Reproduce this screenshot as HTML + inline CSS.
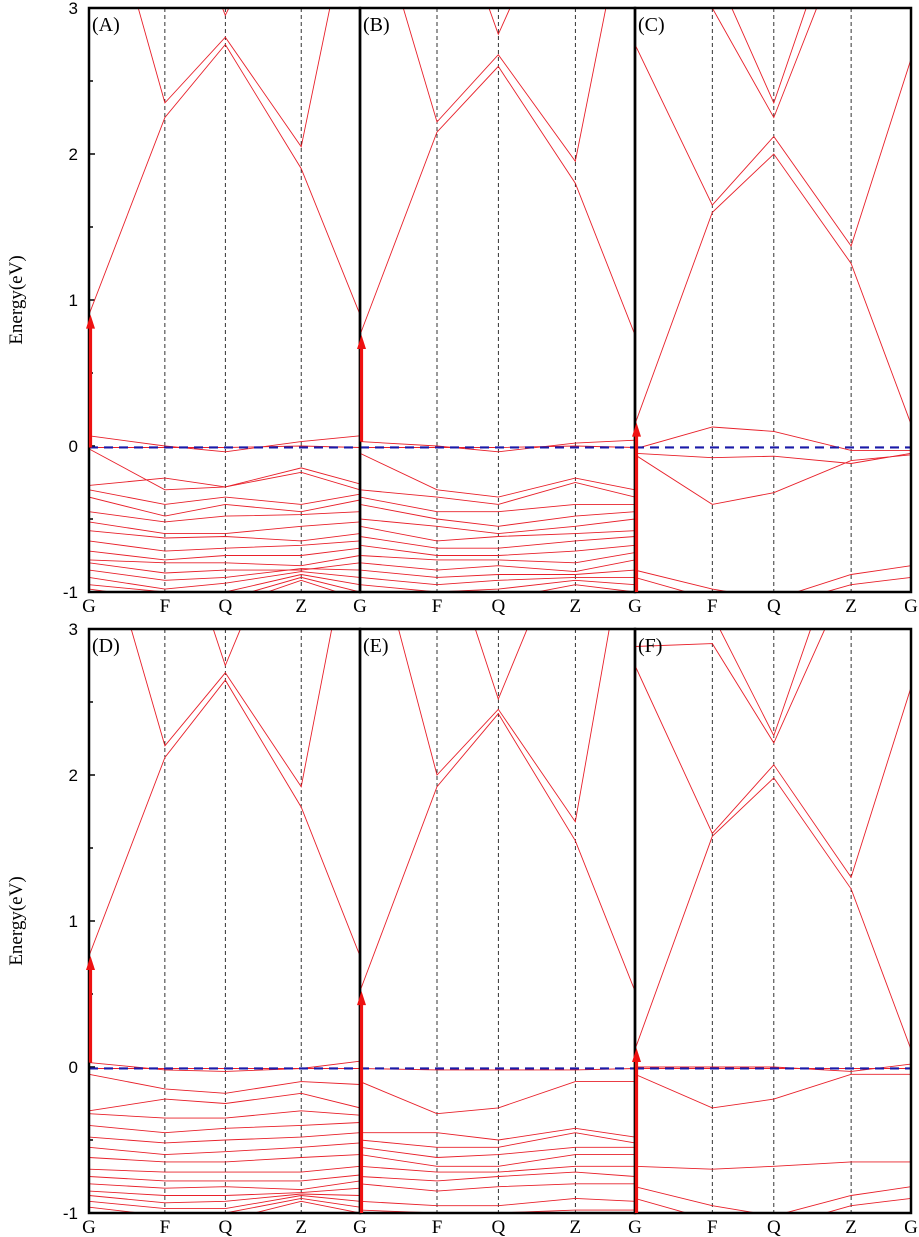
<!DOCTYPE html>
<html><head><meta charset="utf-8"><style>
html,body{margin:0;padding:0;background:#fff;}
svg{display:block;}
</style></head><body>
<svg id="chart" width="919" height="1237" viewBox="0 0 919 1237" xmlns="http://www.w3.org/2000/svg"></svg>
<script>
// k-path labels and node fractions
const kLabels = ["G","F","Q","Z","G"];
const kFrac = [0, 0.28, 0.503, 0.783, 1];
const yTicks = [3, 2, 1, 0, -1];
const panelNames = ["(A)","(B)","(C)","(D)","(E)","(F)"];
// CBM / VBM arrow endpoints (eV)
const arrowFrom = [-0.01, 0.03, -1, 0.03, -1, -1];
const arrowTo = [0.9, 0.76, 0.16, 0.76, 0.52, 0.13];

// Bands: energies at G, F, Q, Z, G
const bandsA = [
 [0.9,2.25,2.75,1.9,0.9],[4.2,2.35,2.8,2.05,4.0],[5,4,2.95,4,5],
 [0.07,0.0,-0.04,0.03,0.07],[-0.01,-0.01,-0.01,0.0,-0.01],
 [-0.02,-0.3,-0.28,-0.15,-0.26],[-0.27,-0.22,-0.28,-0.18,-0.3],
 [-0.3,-0.4,-0.35,-0.4,-0.33],[-0.35,-0.48,-0.4,-0.45,-0.37],
 [-0.45,-0.52,-0.48,-0.47,-0.45],[-0.52,-0.6,-0.6,-0.55,-0.52],
 [-0.58,-0.63,-0.62,-0.65,-0.6],[-0.65,-0.72,-0.7,-0.68,-0.65],
 [-0.72,-0.78,-0.75,-0.75,-0.7],[-0.78,-0.8,-0.8,-0.82,-0.75],
 [-0.8,-0.87,-0.85,-0.85,-0.8],[-0.85,-0.92,-0.9,-0.84,-0.85],
 [-0.9,-0.98,-0.94,-0.86,-0.9],[-0.95,-1.0,-1.0,-0.88,-0.95],
 [-0.98,-1.05,-1.05,-0.9,-1.0],[-1.05,-1.1,-1.1,-0.92,-1.05]
];
const bandsB = [
 [0.76,2.15,2.6,1.8,0.76],[4.0,2.22,2.68,1.95,4.0],[5,4,2.82,4,5],
 [0.03,0.0,-0.04,0.02,0.04],[-0.01,-0.01,-0.01,0.0,-0.01],
 [-0.05,-0.3,-0.35,-0.22,-0.3],[-0.3,-0.35,-0.4,-0.25,-0.35],
 [-0.35,-0.45,-0.45,-0.4,-0.4],[-0.4,-0.5,-0.55,-0.48,-0.45],
 [-0.5,-0.55,-0.6,-0.55,-0.5],[-0.55,-0.65,-0.62,-0.6,-0.58],
 [-0.62,-0.7,-0.7,-0.65,-0.62],[-0.68,-0.75,-0.75,-0.72,-0.68],
 [-0.75,-0.78,-0.78,-0.8,-0.73],[-0.8,-0.85,-0.82,-0.86,-0.78],
 [-0.85,-0.9,-0.88,-0.88,-0.85],[-0.9,-0.95,-0.92,-0.9,-0.9],
 [-0.95,-1.0,-0.98,-0.92,-0.95],[-1.0,-1.05,-1.05,-0.95,-1.0]
];
const bandsC = [
 [0.15,1.6,2.0,1.25,0.15],[2.75,1.65,2.12,1.37,2.65],
 [3.0,3.0,2.25,3.6,4.2],[3.15,3.3,2.35,3.9,4.4],
 [-0.02,0.13,0.1,-0.03,-0.03],[-0.05,-0.08,-0.07,-0.12,-0.05],
 [-0.06,-0.4,-0.32,-0.1,-0.06],[-0.85,-0.98,-1.05,-0.88,-0.82],
 [-0.9,-1.05,-1.1,-0.95,-0.9]
];
const bandsD = [
 [0.76,2.12,2.65,1.78,0.76],[4.0,2.2,2.7,1.92,4.0],[5,4,2.75,4,5],
 [0.03,-0.02,-0.03,-0.01,0.04],[-0.01,-0.01,-0.01,-0.01,-0.01],
 [-0.05,-0.15,-0.18,-0.1,-0.12],[-0.3,-0.22,-0.25,-0.18,-0.28],
 [-0.32,-0.35,-0.35,-0.3,-0.33],[-0.4,-0.45,-0.42,-0.4,-0.38],
 [-0.48,-0.52,-0.5,-0.48,-0.45],[-0.55,-0.6,-0.58,-0.55,-0.52],
 [-0.62,-0.65,-0.65,-0.62,-0.6],[-0.7,-0.72,-0.72,-0.72,-0.68],
 [-0.75,-0.78,-0.78,-0.78,-0.74],[-0.8,-0.83,-0.82,-0.84,-0.78],
 [-0.85,-0.88,-0.88,-0.86,-0.83],[-0.88,-0.93,-0.92,-0.87,-0.88],
 [-0.92,-0.97,-0.97,-0.88,-0.92],[-0.96,-1.02,-1.0,-0.9,-0.96],
 [-1.0,-1.05,-1.05,-0.92,-1.0]
];
const bandsE = [
 [0.52,1.92,2.42,1.55,0.52],[4.0,2.0,2.45,1.68,4.0],[5,3.8,2.52,3.8,5],
 [-0.01,-0.02,-0.02,-0.02,-0.01],[-0.1,-0.32,-0.28,-0.1,-0.1],
 [-0.45,-0.45,-0.5,-0.42,-0.48],[-0.5,-0.55,-0.55,-0.45,-0.52],
 [-0.55,-0.62,-0.6,-0.55,-0.55],[-0.6,-0.68,-0.68,-0.6,-0.6],
 [-0.68,-0.72,-0.72,-0.68,-0.68],[-0.75,-0.78,-0.75,-0.72,-0.75],
 [-0.8,-0.85,-0.82,-0.8,-0.8],[-0.92,-0.95,-0.95,-0.9,-0.92],
 [-0.98,-1.0,-1.0,-0.98,-0.98]
];
const bandsF = [
 [0.12,1.58,1.98,1.22,0.12],[2.75,1.6,2.07,1.3,2.6],
 [2.88,2.9,2.22,3.4,3.0],[3.0,3.1,2.27,3.8,4.3],
 [0.0,0.0,0.0,-0.03,0.02],[-0.01,-0.01,-0.01,-0.01,-0.01],
 [-0.05,-0.28,-0.22,-0.05,-0.05],[-0.68,-0.7,-0.68,-0.65,-0.65],
 [-0.82,-0.95,-1.02,-0.88,-0.82],[-0.9,-1.05,-1.1,-0.95,-0.9]
];

const svg = document.getElementById('chart');
const NS = 'http://www.w3.org/2000/svg';
function mk(tag, attrs, parent){
  const e = document.createElementNS(NS, tag);
  for (const k in attrs) e.setAttribute(k, attrs[k]);
  (parent||svg).appendChild(e);
  return e;
}
const allBands = [bandsA,bandsB,bandsC,bandsD,bandsE,bandsF];
const colX = [[89,360],[360,635],[635,911]];
const rowY = [[8,592],[629,1213]];
const defs = mk('defs',{});

for (let r=0;r<2;r++){
  const [yt,yb] = rowY[r];
  const yS = e => yt + (3-e)/4*(yb-yt);
  const t = mk('text',{x:22,y:(yt+yb)/2,'font-family':'Liberation Serif, serif','font-size':'19','text-anchor':'middle',transform:`rotate(-90 22 ${(yt+yb)/2})`});
  
  
  t.textContent='Energy(eV)';
  yTicks.forEach(v=>{
    const tl = mk('text',{x:78,y:yS(v)+6,'font-family':'Liberation Sans, sans-serif','font-size':'17','text-anchor':'end'});
    
    
    tl.textContent=v;
    mk('line',{x1:89,x2:95,y1:yS(v),y2:yS(v),stroke:'#000','stroke-width':1.5});
  });
  [2.5,1.5,0.5,-0.5].forEach(v=>mk('line',{x1:89,x2:93,y1:yS(v),y2:yS(v),stroke:'#000','stroke-width':1.5}));
  for (let c=0;c<3;c++){
    const idx = r*3+c;
    const [x0,x1] = colX[c];
    const xS = f => x0 + f*(x1-x0);
    const g = mk('g',{});
    
    
    const cp = mk('clipPath',{id:'cp'+idx},defs);
    mk('rect',{x:x0,y:yt,width:x1-x0,height:yb-yt},cp);
    const inner = mk('g',{'clip-path':`url(#cp${idx})`},g);
    for (let k=1;k<4;k++) mk('line',{x1:xS(kFrac[k]),x2:xS(kFrac[k]),y1:yt,y2:yb,stroke:'#000','stroke-width':0.8,'stroke-dasharray':'4,3'},inner);
    allBands[idx].forEach(b=>{
      const pts = b.map((e,i)=>xS(kFrac[i]).toFixed(1)+','+yS(e).toFixed(1)).join(' ');
      const pl = mk('polyline',{points:pts,fill:'none',stroke:'#e8202a','stroke-width':0.9},inner);
      
      
    });
    const fl = mk('line',{x1:x0,x2:x1,y1:yS(-0.01),y2:yS(-0.01),stroke:'#1a1aa8','stroke-width':2.2,'stroke-dasharray':'9,6'},inner);
    
    
    mk('rect',{x:x0,y:yt,width:x1-x0,height:yb-yt,fill:'none',stroke:'#000','stroke-width':2.5},g);
    // arrow
    const ax = x0+1.5, ay1 = yS(arrowFrom[idx]), ay2 = yS(arrowTo[idx]);
    const ar = mk('line',{x1:ax,x2:ax,y1:ay1,y2:ay2+10,stroke:'#ee1111','stroke-width':3.2},g);
    
    
    const ah = mk('polygon',{points:`${ax-4.5},${ay2+14} ${ax},${ay2} ${ax+4.5},${ay2+14}`,fill:'#ee1111'},g);
    
    
    const lb = mk('text',{x:x0+3,y:yt+23,'font-family':'Liberation Serif, serif','font-size':'20'},g);
    
    
    lb.textContent = panelNames[idx];
    kLabels.forEach((L,k)=>{
      if (c>0 && k===0) return;
      const kl = mk('text',{x:xS(kFrac[k]),y:yb+20,'font-family':'Liberation Serif, serif','font-size':'19','text-anchor':'middle'},g);
      
      
      kl.textContent = L;
    });
  }
}
</script>
</body></html>
